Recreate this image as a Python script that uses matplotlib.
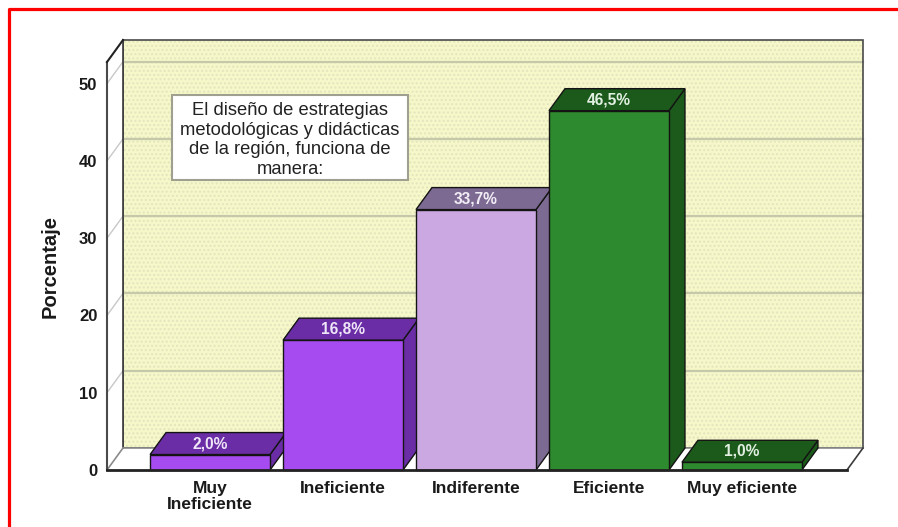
import matplotlib
matplotlib.use('Agg')
import matplotlib.pyplot as plt
from matplotlib.patches import Polygon, Rectangle
from matplotlib.lines import Line2D

plt.rcParams['font.family'] = ['Liberation Sans', 'DejaVu Sans']

# ---- data ----
categories = ['Muy\nIneficiente', 'Ineficiente', 'Indiferente', 'Eficiente', 'Muy eficiente']
values = [2.0, 16.8, 33.7, 46.5, 1.0]
value_labels = ['2,0%', '16,8%', '33,7%', '46,5%', '1,0%']
yticks = [0, 10, 20, 30, 40, 50]
ylabel = 'Porcentaje'
note = 'El diseño de estrategias\nmetodológicas y didácticas\nde la región, funciona de\nmanera:'

# ---- styles ----
front_colors = ['#A64BEF', '#A64BEF', '#CCA8E2', '#2E8A2E', '#2E8A2E']
dark_colors = ['#6A2DA5', '#6A2DA5', '#7D6A92', '#1C5A1C', '#1C5A1C']
label_colors = ['#EFE6F8', '#EFE6F8', '#F2EEF6', '#E2F0E2', '#E2F0E2']

W, H = 898, 527
fig = plt.figure(figsize=(W / 100, H / 100), dpi=100)
fig.patch.set_facecolor('white')

ax_l, ax_r, ax_b, ax_t = 107, 847, 470, 62  # pixel frame of the front plane
ax = fig.add_axes([ax_l / W, 1 - ax_b / H, (ax_r - ax_l) / W, (ax_b - ax_t) / H])
XMIN, XMAX = -0.775, 4.79
YMAX = 52.8
ax.set_xlim(XMIN, XMAX)
ax.set_ylim(0, YMAX)
ax.patch.set_visible(False)
for s in ax.spines.values():
    s.set_visible(False)

# depth offset in data units
DX = 16 * (XMAX - XMIN) / (ax_r - ax_l)
DY = 22 * YMAX / (ax_b - ax_t)

# back wall
ax.add_patch(Rectangle((XMIN + DX, DY), XMAX - XMIN, YMAX, fc='#F6F8C9', ec='none',
                       zorder=0, clip_on=False))
ax.add_patch(Rectangle((XMIN + DX, DY), XMAX - XMIN, YMAX, fc='none', ec='#E3E5BE', lw=0,
                       hatch='....', zorder=0.5, clip_on=False))
for v in yticks[1:]:
    ax.add_line(Line2D([XMIN + DX, XMAX + DX], [v + DY, v + DY], color='#C6C8AA', lw=1.6,
                       zorder=1, clip_on=False))
ax.add_patch(Rectangle((XMIN + DX, DY), XMAX - XMIN, YMAX, fc='none', ec='#4A4A4A', lw=1.2,
                       zorder=1.5, clip_on=False))

# left wall
ax.add_patch(Polygon([(XMIN, 0), (XMIN, YMAX), (XMIN + DX, YMAX + DY), (XMIN + DX, DY)],
                     closed=True, fc='white', ec='none', zorder=2, clip_on=False))
for v in yticks[1:]:
    ax.add_line(Line2D([XMIN, XMIN + DX], [v, v + DY], color='#C8C8C8', lw=1,
                       zorder=2.2, clip_on=False))
ax.add_line(Line2D([XMIN + DX, XMIN + DX], [DY, YMAX + DY], color='#3A3A3A', lw=1.2,
                   zorder=2.3, clip_on=False))

# floor
ax.add_patch(Polygon([(XMIN, 0), (XMAX, 0), (XMAX + DX, DY), (XMIN + DX, DY)],
                     closed=True, fc='white', ec='none', zorder=2, clip_on=False))
ax.add_line(Line2D([XMIN + DX, XMAX + DX], [DY, DY], color='#8A8A8A', lw=1.2, zorder=2.3, clip_on=False))
ax.add_line(Line2D([XMIN, XMIN + DX], [0, DY], color='#8A8A8A', lw=1.2, zorder=2.3, clip_on=False))
ax.add_line(Line2D([XMAX, XMAX + DX], [0, DY], color='#3A3A3A', lw=1.2, zorder=2.3, clip_on=False))

# bars
bw = 120 / 133.0
for i, (v, fcol, dcol, lab, lcol) in enumerate(zip(values, front_colors, dark_colors,
                                                    value_labels, label_colors)):
    x0, x1 = i - bw / 2, i + bw / 2
    z = 10 + 3 * i
    ax.add_patch(Polygon([(x1, 0), (x1, v), (x1 + DX, v + DY), (x1 + DX, DY)], closed=True,
                         fc=dcol, ec='#141414', lw=1, zorder=z, clip_on=False))
    ax.add_patch(Polygon([(x0, v), (x1, v), (x1 + DX, v + DY), (x0 + DX, v + DY)], closed=True,
                         fc=dcol, ec='#141414', lw=1, zorder=z + 1, clip_on=False))
    ax.bar(i, v, width=bw, color=fcol, edgecolor='#141414', lw=1, zorder=z + 2, clip_on=False)
    ax.text(i, v + DY / 2, lab, ha='center', va='center', fontsize=11.2, fontweight='bold',
            color=lcol, zorder=40)

# front axis lines
ax.add_line(Line2D([XMIN, XMIN], [0, YMAX], color='#4A4A4A', lw=1.5, zorder=30, clip_on=False))
ax.add_line(Line2D([XMIN, XMIN + DX], [YMAX, YMAX + DY], color='#222222', lw=1.5, zorder=30, clip_on=False))
ax.add_line(Line2D([XMIN, XMAX], [0, 0], color='#222222', lw=2, zorder=30, clip_on=False))

# ticks
ax.set_yticks(yticks)
ax.set_yticklabels([str(t) for t in yticks], fontsize=12, fontweight='bold', color='#1A1A1A')
ax.set_xticks(range(len(categories)))
ax.set_xticklabels(categories, fontsize=12.5, fontweight='bold', color='#1A1A1A', linespacing=1.05)
ax.tick_params(axis='y', length=0, pad=7)
ax.tick_params(axis='x', length=0, pad=8)

# y label
fig.text(50 / W, 1 - 266 / H, ylabel, rotation=90, ha='center', va='center',
         fontsize=14.5, fontweight='bold', color='#1A1A1A')

# note box
fig.add_artist(Rectangle((172 / W, 1 - 180 / H), 236 / W, 85 / H, transform=fig.transFigure,
                         fc='white', ec='#A0A090', lw=1.5, zorder=50))
fig.text(290 / W, 1 - 140 / H, note, ha='center', va='center', fontsize=13.2,
         color='#222222', linespacing=1.2, zorder=51)

# red frame
fig.add_artist(Line2D([9 / W, 9 / W, 1.0], [0, 1 - 9 / H, 1 - 9 / H], transform=fig.transFigure,
                      color='#FF0000', lw=2.3))

fig.savefig('out.png', dpi=100)
